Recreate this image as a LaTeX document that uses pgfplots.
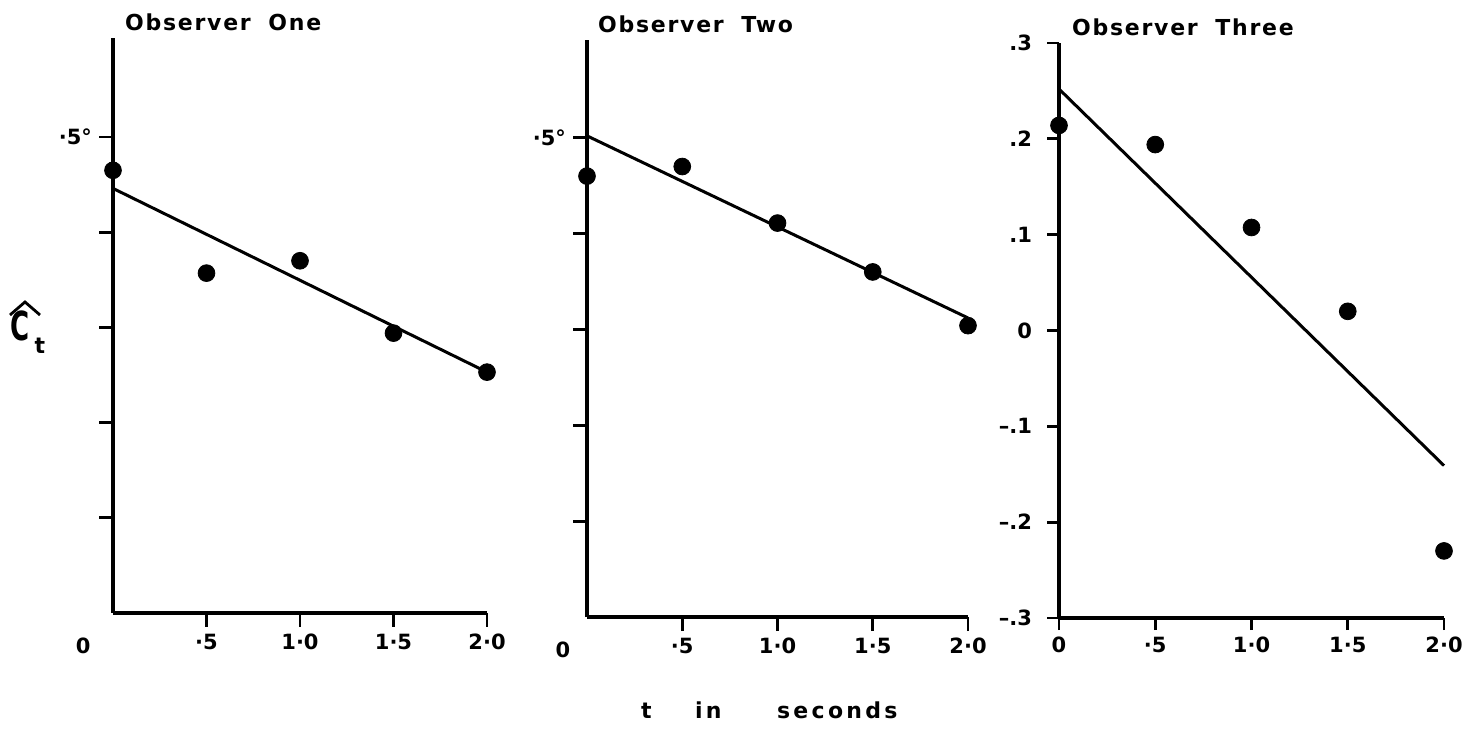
\documentclass[border=0pt]{standalone}
\usepackage{pgfplots}
\pgfplotsset{compat=1.18}
\usepackage{fontspec}
\setmainfont{DejaVu Sans}
\newfontfamily\lab[LetterSpace=8]{DejaVu Sans}
\newfontfamily\tlab{DejaVu Sans}
\newfontfamily\xlab[LetterSpace=15]{DejaVu Sans}

\pgfplotsset{
  obs/.style={
    scale only axis,
    axis lines*=left,
    axis line style={line width=1.7pt},
    tick align=outside,
    major tick length=7pt,
    tick style={line width=1.4pt, black},
    xmin=0, xmax=2,
    xtick={0.5,1,1.5,2},
    xticklabels={·5,1·0,1·5,2·0},
    ticklabel style={font=\tlab\bfseries\fontsize{10.5}{12}\selectfont},
    clip=false,
    anchor=south west,
  },
  dots/.style={only marks, mark=*, mark size=4.2pt, black},
  fit/.style={no marks, line width=1.5pt, black},
}

\pgfplotstableread{
t c
0   0.465
0.5 0.357
1.0 0.370
1.5 0.294
2.0 0.253
}\obsone
\pgfplotstableread{
t c
0   0.460
0.5 0.470
1.0 0.411
1.5 0.360
2.0 0.304
}\obstwo
\pgfplotstableread{
t c
0   0.214
0.5 0.194
1.0 0.1075
1.5 0.020
2.0 -0.230
}\obsthree

\begin{document}
\begin{tikzpicture}
\useasboundingbox (0,0) rectangle (741pt,364pt);

% Panel 1
\begin{axis}[obs, at={(56.5pt,57.5pt)}, width=187pt, height=287.5pt,
  ymin=0, ymax=0.604,
  ytick={0.1,0.2,0.3,0.4,0.5}, yticklabels={{},{},{},{},{·5°}}]
  \addplot[fit] coordinates {(0,0.446) (2,0.253)};
  \addplot[dots] table[x=t,y=c] {\obsone};
  \node[anchor=base west, font=\lab\bfseries\fontsize{11}{13}\selectfont] at (rel axis cs:0,1) [xshift=2.5pt, yshift=3.5pt] {Observer\hspace{0.8em}One};
  \node[anchor=north, font=\tlab\bfseries\fontsize{10.5}{12}\selectfont] at (axis cs:-0.16,0) [yshift=-9pt] {0};
\end{axis}

% Panel 2
\begin{axis}[obs, at={(293.5pt,55.5pt)}, width=190.5pt, height=288.5pt,
  ymin=0, ymax=0.602,
  ytick={0.1,0.2,0.3,0.4,0.5}, yticklabels={{},{},{},{},{·5°}}]
  \addplot[fit] coordinates {(0,0.502) (2,0.312)};
  \addplot[dots] table[x=t,y=c] {\obstwo};
  \node[anchor=base west, font=\lab\bfseries\fontsize{11}{13}\selectfont] at (rel axis cs:0,1) [xshift=2pt, yshift=3.5pt] {Observer\hspace{0.8em}Two};
  \node[anchor=north, font=\tlab\bfseries\fontsize{10.5}{12}\selectfont] at (axis cs:-0.126,0) [yshift=-9pt] {0};
\end{axis}

% Panel 3
\begin{axis}[obs, at={(529.5pt,55pt)}, width=192.5pt, height=287.5pt,
  ymin=-0.3, ymax=0.3,
  xtick={0,0.5,1,1.5,2}, xticklabels={0,·5,1·0,1·5,2·0},
  ytick={-0.3,-0.2,-0.1,0,0.1,0.2,0.3},
  yticklabels={–.3,–.2,–.1,0,.1,.2,.3},
  major tick length=6pt,
  yticklabel style={xshift=-4pt}]
  \addplot[fit] coordinates {(0,0.252) (2,-0.141)};
  \addplot[dots] table[x=t,y=c] {\obsthree};
  \node[anchor=base west, font=\lab\bfseries\fontsize{11}{13}\selectfont] at (rel axis cs:0,1) [xshift=3pt, yshift=4pt] {Observer\hspace{0.8em}Three};
\end{axis}

% y label: C with a wide hat, subscript t
\node[anchor=center] at (10pt,201pt) {\scalebox{0.65}[1]{\fontsize{20}{20}\selectfont\bfseries C}};
\draw[line width=1.4pt, line join=miter] (5pt,206.5pt) -- (12.5pt,213pt) -- (20pt,206.5pt);
\node[anchor=center, font=\fontsize{11}{12}\selectfont\bfseries] at (20pt,191pt) {t};

% x label
\node[anchor=base west, font=\xlab\bfseries\fontsize{11}{13}\selectfont] at (317pt,5pt) {t};
\node[anchor=base west, font=\xlab\bfseries\fontsize{11}{13}\selectfont] at (344pt,5pt) {in};
\node[anchor=base west, font=\xlab\bfseries\fontsize{11}{13}\selectfont] at (385pt,5pt) {seconds};
\end{tikzpicture}
\end{document}
